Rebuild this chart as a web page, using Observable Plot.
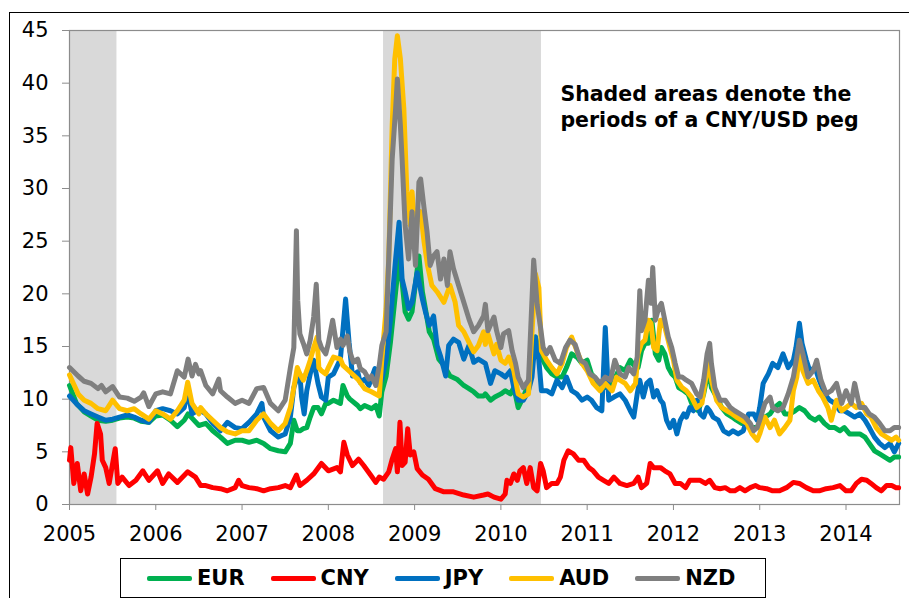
<!DOCTYPE html>
<html>
<head>
<meta charset="utf-8">
<script src="https://cdn.jsdelivr.net/npm/d3@7"></script>
<script src="https://cdn.jsdelivr.net/npm/@observablehq/plot@0.6"></script>
<style>
  html, body { margin: 0; padding: 0; background: #fff; width: 909px; height: 598px; overflow: hidden; }
  #wrap { position: relative; width: 909px; height: 598px; overflow: hidden; font-family: "DejaVu Sans", sans-serif; }
  #outer { position: absolute; left: 9px; top: 12px; width: 1000px; height: 700px; border: 1.5px solid #000; box-sizing: border-box; }
  #chart { position: absolute; left: 0; top: 0; }
  #chart svg text { fill: #000; }
  #legend { position: absolute; left: 120px; top: 558px; width: 646px; height: 40px; box-sizing: border-box;
            border: 1.5px solid #000; background: #fff; display: flex; align-items: center; padding-left: 26px; gap: 26px; }
  .item { display: flex; align-items: center; gap: 5px; font-weight: bold; font-size: 21px; color: #000; }
  .swatch { width: 45px; height: 5px; border-radius: 2px; }
</style>
</head>
<body>
<div id="wrap">
  <div id="outer"></div>
  <div id="chart"></div>
  <div id="legend"></div>
</div>
<script>
// ---- Data (decimal year, implied volatility %) ----
const seriesNames = ["EUR", "CNY", "JPY", "AUD", "NZD"];
const seriesColors = ["#00B050", "#FF0000", "#0070C0", "#FFC000", "#7F7F7F"];
const xTicks = [2005, 2006, 2007, 2008, 2009, 2010, 2011, 2012, 2013, 2014];
const yTicks = [0, 5, 10, 15, 20, 25, 30, 35, 40, 45];
const pegPeriods = [[2005.0, 2005.55], [2008.64, 2010.47]];
const noteText = "Shaded areas denote the\nperiods of a CNY/USD peg";
const notePos = [2010.69, 37.9];

const EUR = [[2005.0,11.3],[2005.08,9.6],[2005.17,8.8],[2005.25,8.4],[2005.33,8.0],[2005.42,7.9],[2005.5,8.0],[2005.58,8.2],[2005.67,8.3],[2005.75,8.2],[2005.83,7.9],[2005.92,7.8],[2006.0,8.4],[2006.08,8.5],[2006.17,8.0],[2006.25,7.4],[2006.33,8.0],[2006.375,8.6],[2006.42,8.2],[2006.5,7.5],
[2006.58,7.7],[2006.66,7.0],[2006.75,6.4],[2006.83,5.8],[2006.92,6.1],[2007.0,6.1],[2007.08,5.9],[2007.17,6.1],[2007.25,5.8],[2007.33,5.3],[2007.42,5.1],[2007.5,5.0],[2007.56,5.8],[2007.6,8.0],[2007.64,7.0],[2007.67,7.0],[2007.71,7.2],[2007.75,7.3],[2007.79,8.3],[2007.83,9.2],[2007.88,9.2],[2007.92,8.6],[2007.97,9.6],[2008.0,9.6],[2008.06,9.9],[2008.14,9.6],
[2008.17,11.3],[2008.22,10.3],[2008.25,10.0],[2008.34,9.4],[2008.37,9.1],[2008.42,9.4],[2008.5,9.1],[2008.55,9.4],[2008.59,8.4],[2008.62,10.7],[2008.67,12.2],[2008.72,15.4],[2008.78,20.2],[2008.82,23.3],[2008.855,21.1],[2008.89,18.3],[2008.93,17.6],[2008.97,18.3],[2009.05,23.6],[2009.09,20.2],[2009.125,18.6],[2009.17,16.4],[2009.22,15.7],[2009.28,13.8],[2009.34,13.2],[2009.41,12.2],[2009.49,11.9],[2009.57,11.3],[2009.63,11.0],[2009.685,10.7],[2009.74,10.3],[2009.8,10.3],
[2009.82,10.5],[2009.88,9.9],[2009.93,10.2],[2010.0,10.5],[2010.05,10.8],[2010.11,10.5],[2010.15,11.1],[2010.2,9.2],[2010.26,10.2],[2010.34,11.8],[2010.4,15.9],[2010.44,14.6],[2010.47,14.0],[2010.53,13.0],[2010.59,12.4],[2010.65,12.1],[2010.71,12.1],[2010.76,13.0],[2010.82,14.3],[2010.88,14.0],[2010.94,13.4],[2011.0,13.7],[2011.05,12.4],[2011.11,11.8],[2011.17,11.1],[2011.23,11.1],[2011.31,11.8],
[2011.38,13.0],[2011.44,12.7],[2011.5,13.7],[2011.56,13.0],[2011.59,13.0],[2011.63,14.6],[2011.67,15.3],[2011.71,15.3],[2011.75,17.5],[2011.79,14.3],[2011.83,13.7],[2011.86,14.9],[2011.9,14.3],[2011.94,13.0],[2011.98,12.4],[2012.02,12.1],[2012.06,11.1],[2012.12,10.8],[2012.17,10.5],[2012.23,9.2],[2012.29,8.9],[2012.35,10.5],[2012.41,13.0],[2012.44,11.1],[2012.5,10.2],[2012.56,9.2],[2012.62,8.6],[2012.68,8.3],[2012.73,8.0],[2012.79,7.7],[2012.85,7.7],[2012.91,7.3],[2012.97,7.3],
[2013.02,8.0],[2013.06,8.3],[2013.12,8.6],[2013.17,9.2],[2013.23,9.6],[2013.29,8.6],[2013.35,8.6],[2013.41,8.9],[2013.46,9.2],[2013.52,8.9],[2013.58,8.3],[2013.64,8.0],[2013.69,8.3],[2013.75,7.7],[2013.81,7.3],[2013.87,7.3],[2013.93,7.0],[2013.98,7.3],[2014.04,6.7],[2014.1,6.7],[2014.16,6.7],[2014.22,6.4],[2014.27,5.8],[2014.33,5.1],[2014.39,4.8],[2014.45,4.5],[2014.51,4.2],[2014.56,4.5],[2014.61,4.5]];

const CNY = [[2005.0,4.2],[2005.015,5.4],[2005.05,2.0],[2005.09,3.9],[2005.13,1.3],[2005.17,2.9],[2005.21,1.0],[2005.25,2.6],[2005.29,4.8],[2005.32,7.7],[2005.36,6.7],[2005.38,4.2],[2005.42,3.5],[2005.46,2.0],[2005.5,3.9],[2005.53,5.3],[2005.56,2.0],[2005.61,2.6],[2005.69,1.8],[2005.77,2.3],[2005.85,3.2],[2005.92,2.3],[2006.02,3.2],[2006.08,2.0],[2006.15,2.9],[2006.25,2.1],[2006.37,3.1],[2006.46,2.6],[2006.52,1.8],
[2006.58,1.8],[2006.66,1.6],[2006.75,1.5],[2006.83,1.3],[2006.92,1.6],[2006.96,2.3],[2007.0,1.8],[2007.08,1.6],[2007.17,1.5],[2007.25,1.3],[2007.33,1.5],[2007.42,1.6],[2007.5,1.8],[2007.56,1.6],[2007.63,2.8],[2007.67,1.8],[2007.75,2.3],[2007.83,2.9],[2007.92,3.9],[2008.0,3.2],[2008.1,3.5],[2008.14,3.1],[2008.18,5.9],[2008.22,4.7],[2008.28,3.7],[2008.35,4.3],[2008.41,3.7],[2008.49,2.8],[2008.55,2.1],[2008.59,2.6],[2008.64,2.4],[2008.7,3.1],[2008.74,4.3],[2008.78,5.3],[2008.8,3.1],[2008.83,7.8],[2008.855,3.7],[2008.89,4.0],[2008.92,7.2],[2008.95,4.7],[2008.99,5.0],[2009.03,3.4],[2009.09,2.8],[2009.16,2.4],[2009.24,1.5],[2009.34,1.2],[2009.45,1.2],[2009.57,0.9],[2009.685,0.7],[2009.8,0.9],
[2009.85,1.0],[2009.92,0.7],[2010.0,0.5],[2010.05,1.0],[2010.07,2.3],[2010.11,2.0],[2010.15,2.9],[2010.19,2.3],[2010.22,3.2],[2010.26,3.5],[2010.3,2.0],[2010.34,3.5],[2010.38,1.6],[2010.42,1.3],[2010.46,3.9],[2010.49,3.2],[2010.53,1.6],[2010.59,2.0],[2010.65,2.0],[2010.69,2.6],[2010.73,4.2],[2010.78,5.1],[2010.84,4.8],[2010.9,4.2],[2010.96,4.2],[2011.02,3.5],[2011.07,3.2],[2011.13,2.6],[2011.19,2.3],[2011.25,2.0],[2011.31,2.6],[2011.38,2.0],
[2011.46,1.8],[2011.54,2.0],[2011.59,2.6],[2011.63,1.6],[2011.69,2.0],[2011.73,3.9],[2011.77,3.5],[2011.81,3.5],[2011.85,3.5],[2011.9,3.2],[2011.96,2.9],[2012.02,2.0],[2012.08,2.0],[2012.14,1.6],[2012.19,2.3],[2012.25,2.3],[2012.31,2.3],[2012.37,2.0],[2012.42,2.3],[2012.48,1.6],[2012.54,1.5],[2012.6,1.6],[2012.66,1.3],[2012.71,1.3],[2012.77,1.6],[2012.83,1.3],[2012.89,1.6],[2012.95,1.8],
[2013.0,1.6],[2013.08,1.5],[2013.15,1.3],[2013.23,1.3],[2013.31,1.6],[2013.39,2.1],[2013.46,2.0],[2013.54,1.6],[2013.62,1.3],[2013.69,1.3],[2013.77,1.5],[2013.85,1.6],[2013.93,1.8],[2014.0,1.3],[2014.06,1.3],[2014.12,2.0],[2014.18,2.4],[2014.24,2.3],[2014.29,2.0],[2014.35,1.6],[2014.41,1.3],[2014.47,1.8],[2014.53,1.8],[2014.58,1.6],[2014.61,1.6]];

const JPY = [[2005.0,10.3],[2005.1,9.4],[2005.17,8.9],[2005.25,8.6],[2005.33,8.3],[2005.42,8.0],[2005.5,8.1],[2005.58,8.3],[2005.67,8.5],[2005.75,8.3],[2005.83,8.0],[2005.92,7.8],[2006.0,8.9],[2006.08,9.1],[2006.17,8.9],[2006.25,8.6],[2006.33,9.2],[2006.37,10.8],[2006.42,8.6],[2006.5,9.0],
[2006.58,8.6],[2006.66,7.7],[2006.75,7.0],[2006.83,7.8],[2006.92,7.3],[2007.0,7.2],[2007.08,7.8],[2007.17,8.6],[2007.23,9.6],[2007.25,8.3],[2007.33,7.0],[2007.42,6.4],[2007.5,6.7],[2007.56,8.3],[2007.6,11.1],[2007.64,12.1],[2007.67,12.4],[2007.69,10.2],[2007.72,8.6],[2007.75,10.8],[2007.79,12.4],[2007.83,13.7],[2007.88,11.5],[2007.92,10.2],[2007.97,9.9],[2008.0,12.1],[2008.06,12.4],[2008.14,13.8],[2008.2,19.5],[2008.24,15.4],[2008.28,12.2],[2008.34,12.6],[2008.37,11.6],[2008.42,11.9],[2008.47,11.3],[2008.54,12.9],[2008.59,11.3],[2008.62,11.9],[2008.67,13.8],[2008.72,17.6],[2008.78,23.3],[2008.82,26.8],[2008.855,21.4],[2008.89,20.2],[2008.93,18.6],[2008.97,19.2],[2009.03,22.0],[2009.09,19.5],[2009.125,18.3],[2009.17,17.0],[2009.22,17.9],[2009.26,15.1],[2009.3,14.1],[2009.36,12.2],[2009.395,15.1],[2009.45,15.7],[2009.51,15.4],[2009.57,13.8],[2009.63,15.1],[2009.685,13.5],[2009.74,13.8],[2009.8,13.5],
[2009.82,13.4],[2009.88,11.5],[2009.93,12.7],[2010.0,12.4],[2010.05,12.1],[2010.11,12.7],[2010.15,11.1],[2010.2,9.9],[2010.26,9.9],[2010.32,10.8],[2010.36,12.1],[2010.4,15.9],[2010.44,13.7],[2010.47,10.8],[2010.53,10.8],[2010.59,10.5],[2010.65,11.8],[2010.71,11.1],[2010.76,12.1],[2010.82,10.8],[2010.88,10.5],[2010.94,9.9],[2011.0,10.2],[2011.05,9.9],[2011.11,9.2],[2011.17,8.9],[2011.21,16.8],[2011.25,9.9],[2011.31,10.2],[2011.38,10.5],
[2011.44,9.9],[2011.5,8.9],[2011.54,8.3],[2011.58,10.5],[2011.61,11.8],[2011.65,10.2],[2011.69,11.5],[2011.73,11.8],[2011.77,10.2],[2011.81,10.8],[2011.85,9.9],[2011.88,9.6],[2011.92,8.0],[2011.96,7.3],[2012.0,8.0],[2012.04,6.7],[2012.08,8.0],[2012.12,8.6],[2012.15,8.3],[2012.19,9.2],[2012.23,8.9],[2012.27,9.9],[2012.31,8.6],[2012.35,8.3],[2012.39,9.2],[2012.42,8.9],[2012.46,8.3],[2012.52,8.0],[2012.58,7.0],[2012.64,6.7],[2012.69,7.0],[2012.75,6.7],[2012.81,7.0],[2012.87,8.6],[2012.93,8.6],[2012.97,8.0],
[2013.0,9.2],[2013.04,11.5],[2013.1,12.4],[2013.15,13.4],[2013.21,13.0],[2013.27,14.3],[2013.33,13.0],[2013.39,13.7],[2013.42,14.9],[2013.46,17.2],[2013.49,15.3],[2013.54,13.7],[2013.58,12.7],[2013.64,13.0],[2013.69,11.8],[2013.75,10.5],[2013.81,9.9],[2013.87,9.6],[2013.93,8.9],[2013.98,8.9],[2014.04,8.6],[2014.1,8.3],[2014.16,8.6],[2014.22,8.0],[2014.27,7.3],[2014.33,6.4],[2014.39,5.8],[2014.45,5.4],[2014.51,5.8],[2014.56,5.0],[2014.61,5.8]];

const AUD = [[2005.0,12.3],[2005.1,10.5],[2005.17,9.9],[2005.25,9.6],[2005.33,9.1],[2005.42,8.9],[2005.5,9.9],[2005.58,9.1],[2005.67,8.9],[2005.75,9.1],[2005.83,8.6],[2005.92,8.1],[2006.0,8.9],[2006.08,8.6],[2006.17,8.1],[2006.25,8.9],[2006.33,9.9],[2006.37,11.6],[2006.42,9.6],[2006.5,8.6],
[2006.52,9.2],[2006.58,8.6],[2006.66,8.0],[2006.75,7.3],[2006.83,6.9],[2006.92,6.7],[2007.0,7.0],[2007.08,7.0],[2007.17,8.0],[2007.25,8.6],[2007.33,7.7],[2007.42,7.0],[2007.5,7.7],[2007.56,9.2],[2007.6,11.1],[2007.64,13.0],[2007.67,12.4],[2007.71,11.8],[2007.75,12.7],[2007.79,13.7],[2007.83,14.9],[2007.87,15.9],[2007.89,13.0],[2007.92,12.7],[2007.97,12.4],[2008.0,13.0],[2008.06,14.0],
[2008.14,13.8],[2008.17,13.2],[2008.25,12.6],[2008.34,11.9],[2008.42,11.0],[2008.5,10.7],[2008.59,10.3],[2008.62,13.8],[2008.67,18.6],[2008.7,23.3],[2008.74,36.0],[2008.77,42.3],[2008.8,44.5],[2008.835,42.3],[2008.875,37.6],[2008.91,29.7],[2008.95,26.5],[2008.97,29.7],[2009.0,26.5],[2009.07,27.8],[2009.11,24.9],[2009.15,22.7],[2009.2,20.8],[2009.26,20.2],[2009.34,19.2],[2009.41,20.8],[2009.47,19.2],[2009.51,17.0],[2009.57,16.4],[2009.63,15.4],[2009.685,14.5],[2009.74,15.1],[2009.8,16.4],
[2009.82,15.2],[2009.85,16.2],[2009.92,14.3],[2009.95,15.2],[2010.0,13.7],[2010.05,13.4],[2010.09,14.0],[2010.15,12.7],[2010.2,10.5],[2010.26,10.2],[2010.32,10.5],[2010.35,14.9],[2010.4,21.9],[2010.44,20.6],[2010.47,14.6],[2010.53,13.7],[2010.59,13.0],[2010.65,12.4],[2010.71,13.4],[2010.76,14.9],[2010.82,15.9],[2010.88,14.6],[2010.94,13.4],[2011.0,12.7],[2011.07,11.5],[2011.15,10.8],[2011.21,11.5],[2011.29,10.8],[2011.34,12.1],
[2011.38,11.8],[2011.44,11.5],[2011.5,10.8],[2011.56,11.5],[2011.59,14.3],[2011.63,15.3],[2011.67,15.6],[2011.71,17.5],[2011.74,17.2],[2011.77,14.9],[2011.81,14.6],[2011.85,17.5],[2011.88,17.5],[2011.92,16.2],[2011.96,14.9],[2012.0,13.7],[2012.04,11.8],[2012.1,11.1],[2012.15,10.8],[2012.21,10.2],[2012.27,9.2],[2012.33,9.6],[2012.37,11.8],[2012.41,13.7],[2012.44,11.8],[2012.5,9.9],[2012.56,9.2],[2012.62,8.9],[2012.68,8.6],[2012.73,8.3],[2012.79,8.0],[2012.85,7.7],[2012.91,6.7],[2012.97,6.1],[2013.0,6.7],
[2013.06,8.3],[2013.12,7.3],[2013.17,8.0],[2013.23,6.7],[2013.29,7.3],[2013.35,8.0],[2013.39,10.8],[2013.43,12.1],[2013.46,14.3],[2013.5,12.7],[2013.56,11.5],[2013.62,11.8],[2013.68,10.8],[2013.73,10.2],[2013.79,9.2],[2013.83,8.0],[2013.89,9.9],[2013.95,8.9],[2014.0,9.2],[2014.06,9.6],[2014.12,9.2],[2014.18,9.6],[2014.24,8.6],[2014.29,8.3],[2014.35,7.3],[2014.41,6.7],[2014.47,6.4],[2014.53,6.1],[2014.58,6.4],[2014.61,6.1]];

const NZD = [[2005.0,13.0],[2005.1,12.2],[2005.17,11.7],[2005.25,11.5],[2005.33,11.0],[2005.37,11.3],[2005.42,10.7],[2005.5,11.2],[2005.58,10.2],[2005.67,10.1],[2005.75,9.8],[2005.83,10.2],[2005.86,10.6],[2005.92,9.3],[2006.0,10.5],[2006.08,10.7],[2006.17,10.5],[2006.25,12.7],[2006.33,12.1],[2006.375,13.8],[2006.42,12.2],[2006.46,13.3],[2006.5,12.4],
[2006.52,12.7],[2006.58,11.3],[2006.66,10.5],[2006.73,11.9],[2006.75,10.8],[2006.83,10.2],[2006.92,9.6],[2007.0,9.9],[2007.08,9.6],[2007.17,11.0],[2007.25,11.1],[2007.33,9.6],[2007.42,8.9],[2007.5,9.9],[2007.56,13.0],[2007.6,14.9],[2007.63,26.0],[2007.645,19.4],[2007.67,16.2],[2007.71,15.3],[2007.75,14.3],[2007.79,15.6],[2007.83,17.8],[2007.86,20.9],[2007.89,15.6],[2007.92,14.9],[2007.97,14.3],[2008.0,15.3],[2008.05,17.5],[2008.1,14.9],
[2008.14,15.7],[2008.17,15.1],[2008.22,16.0],[2008.25,14.5],[2008.29,13.5],[2008.34,13.8],[2008.37,12.9],[2008.42,12.6],[2008.47,11.9],[2008.5,12.2],[2008.55,11.3],[2008.59,13.2],[2008.62,15.1],[2008.67,16.4],[2008.7,23.3],[2008.74,32.8],[2008.78,37.6],[2008.8,40.4],[2008.835,36.0],[2008.855,32.8],[2008.89,26.5],[2008.93,23.3],[2008.97,27.8],[2009.01,22.7],[2009.05,30.6],[2009.07,30.9],[2009.11,28.1],[2009.144,25.9],[2009.18,22.7],[2009.22,23.6],[2009.26,24.0],[2009.3,21.4],[2009.34,23.3],[2009.38,20.8],[2009.41,24.0],[2009.45,22.4],[2009.51,20.8],[2009.57,19.2],[2009.63,17.6],[2009.685,16.4],[2009.74,17.0],[2009.8,17.9],
[2009.82,19.0],[2009.85,16.5],[2009.92,17.8],[2009.95,16.5],[2010.0,14.9],[2010.03,16.2],[2010.09,16.5],[2010.13,14.6],[2010.17,13.4],[2010.2,12.1],[2010.26,11.1],[2010.32,11.8],[2010.35,17.5],[2010.38,23.2],[2010.42,19.0],[2010.46,16.8],[2010.49,14.9],[2010.53,14.3],[2010.57,14.9],[2010.63,13.7],[2010.69,13.4],[2010.75,14.9],[2010.8,15.6],[2010.86,15.2],[2010.92,13.7],[2010.98,13.4],[2011.03,12.4],[2011.09,12.1],[2011.15,11.5],[2011.21,12.1],[2011.27,11.8],[2011.32,13.7],
[2011.38,12.4],[2011.44,12.1],[2011.48,13.0],[2011.54,12.4],[2011.58,14.0],[2011.61,20.3],[2011.63,16.5],[2011.67,17.5],[2011.71,21.3],[2011.74,19.1],[2011.76,22.5],[2011.79,17.5],[2011.83,18.7],[2011.86,19.1],[2011.9,17.5],[2011.94,15.9],[2011.98,14.9],[2012.02,13.4],[2012.06,12.1],[2012.1,12.1],[2012.15,11.8],[2012.21,11.5],[2012.27,10.5],[2012.31,10.2],[2012.35,11.8],[2012.39,14.3],[2012.42,15.3],[2012.44,13.4],[2012.48,11.1],[2012.54,9.9],[2012.6,9.9],[2012.66,9.2],[2012.71,8.9],[2012.77,8.6],[2012.83,8.3],[2012.89,7.7],[2012.93,7.0],[2012.97,7.3],[2013.0,8.0],
[2013.06,9.6],[2013.12,10.2],[2013.15,9.2],[2013.21,8.9],[2013.27,9.2],[2013.33,10.5],[2013.39,12.1],[2013.43,14.0],[2013.46,15.6],[2013.5,14.3],[2013.56,12.1],[2013.62,12.7],[2013.66,13.7],[2013.71,11.8],[2013.77,10.5],[2013.83,10.8],[2013.89,11.5],[2013.95,9.6],[2014.0,10.8],[2014.06,9.6],[2014.1,11.5],[2014.16,9.2],[2014.22,9.2],[2014.27,8.6],[2014.33,8.3],[2014.39,7.7],[2014.45,7.0],[2014.51,7.0],[2014.56,7.3],[2014.61,7.3]];

const seriesData = [EUR, CNY, JPY, AUD, NZD];

// ---- Chart ----
const lineMarks = seriesNames.map((name, i) =>
  Plot.line(seriesData[i], {
    x: d => d[0], y: d => d[1],
    stroke: seriesColors[i], strokeWidth: 5,
    strokeLinejoin: "round", strokeLinecap: "round"
  })
);

const chart = Plot.plot({
  width: 909,
  height: 545,
  marginLeft: 69,
  marginRight: 10,
  marginTop: 30,
  marginBottom: 41,
  style: { fontFamily: "DejaVu Sans, sans-serif", fontSize: "21px", color: "#8c8c8c", background: "transparent", overflow: "visible" },
  x: { domain: [2005, 2014.62], ticks: xTicks, tickFormat: d => String(d), tickSize: 6, tickPadding: 16, label: null },
  y: { domain: [0, 45], ticks: yTicks, tickSize: 7, tickPadding: 14, label: null },
  marks: [
    Plot.rect(pegPeriods, { x1: d => d[0], x2: d => d[1], y1: 0, y2: 45, fill: "#D9D9D9" }),
    Plot.frame({ stroke: "#8c8c8c", strokeWidth: 1.2 }),
    ...lineMarks,
    Plot.text([notePos], {
      x: d => d[0], y: d => d[1], text: () => noteText,
      textAnchor: "start", lineAnchor: "middle", lineHeight: 1.27,
      fontWeight: "bold", fontSize: 20.5, fill: "#000",
      fontFamily: "DejaVu Sans, sans-serif"
    })
  ]
});
document.getElementById("chart").appendChild(chart);

// ---- Legend ----
const legend = document.getElementById("legend");
seriesNames.forEach((name, i) => {
  const item = document.createElement("div");
  item.className = "item";
  const sw = document.createElement("div");
  sw.className = "swatch";
  sw.style.background = seriesColors[i];
  const label = document.createElement("span");
  label.textContent = name;
  item.appendChild(sw);
  item.appendChild(label);
  legend.appendChild(item);
});
</script>
</body>
</html>
